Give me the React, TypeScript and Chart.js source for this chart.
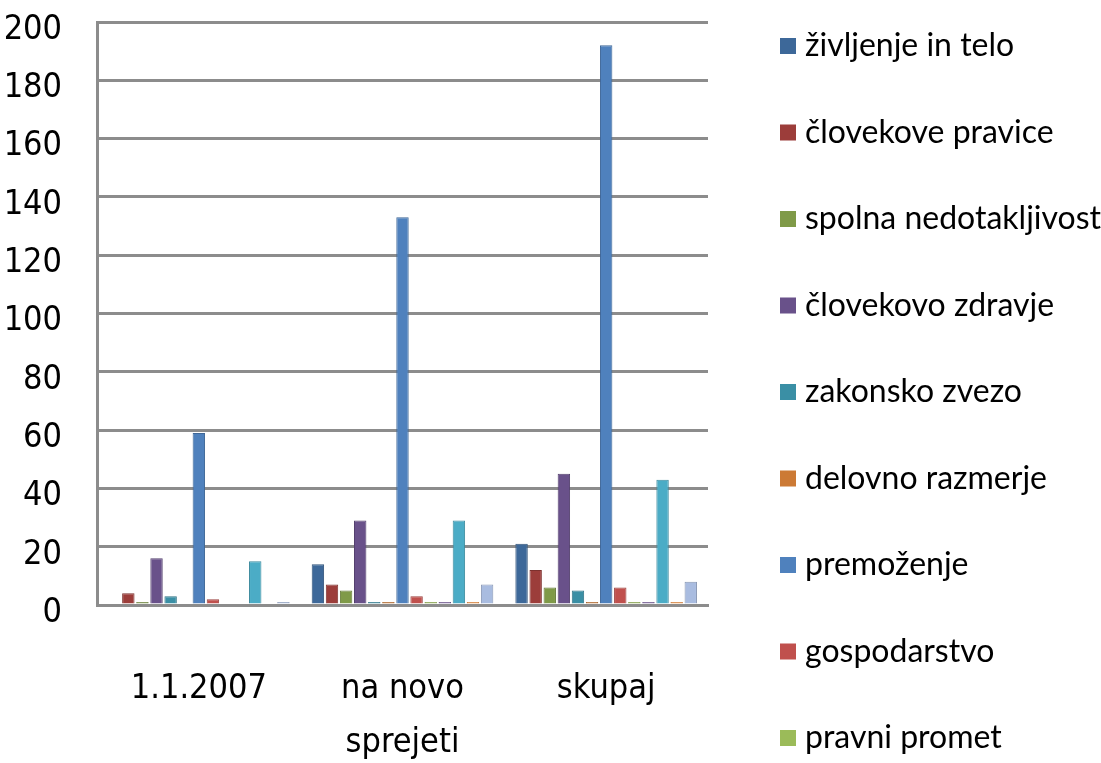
import React, { useEffect, useRef } from "react";
import { Chart, registerables } from "chart.js";

Chart.register(...registerables);

// ---- data ----
const categories: string[][] = [["1.1.2007"], ["na novo", "sprejeti"], ["skupaj"]];

const seriesNames: string[] = [
  "življenje in telo",
  "človekove pravice",
  "spolna nedotakljivost",
  "človekovo zdravje",
  "zakonsko zvezo",
  "delovno razmerje",
  "premoženje",
  "gospodarstvo",
  "pravni promet",
  "Niz 10",
  "Niz 11",
  "Niz 12",
  "Niz 13",
];

const seriesColors: string[] = [
  "#3D6899",
  "#9C3D3A",
  "#7F9A48",
  "#69518A",
  "#3A8FA5",
  "#CC7A35",
  "#4F81BD",
  "#C0504D",
  "#9BBB59",
  "#8064A2",
  "#4BACC6",
  "#F79646",
  "#A9BCE0",
];

const zivljenjeInTelo = [0, 14, 21];
const clovekovePravice = [4, 7, 12];
const spolnaNedotakljivost = [1, 5, 6];
const clovekovoZdravje = [16, 29, 45];
const zakonskoZvezo = [3, 1, 5];
const delovnoRazmerje = [0, 1, 1];
const premozenje = [59, 133, 192];
const gospodarstvo = [2, 3, 6];
const pravniPromet = [0, 1, 1];
const niz10 = [0, 1, 1];
const niz11 = [15, 29, 43];
const niz12 = [0, 1, 1];
const niz13 = [1, 7, 8];

const seriesValues: number[][] = [
  zivljenjeInTelo,
  clovekovePravice,
  spolnaNedotakljivost,
  clovekovoZdravje,
  zakonskoZvezo,
  delovnoRazmerje,
  premozenje,
  gospodarstvo,
  pravniPromet,
  niz10,
  niz11,
  niz12,
  niz13,
];

const yMin = 0;
const yMax = 200;
const yStep = 20;
const legendCount = 9;

const axisFontFamily = "'DejaVu Sans Condensed', 'Liberation Sans', sans-serif";

function darken(hex: string, f: number): string {
  const n = parseInt(hex.slice(1), 16);
  const r = Math.round(((n >> 16) & 255) * f);
  const g = Math.round(((n >> 8) & 255) * f);
  const b = Math.round((n & 255) * f);
  return `rgb(${r},${g},${b})`;
}

const sideLegend = {
  id: "sideLegend",
  afterDraw(chart: any) {
    const ctx = chart.ctx as CanvasRenderingContext2D;
    ctx.save();
    ctx.font = "32px Lato";
    ctx.textBaseline = "middle";
    ctx.textAlign = "left";
    chart.data.datasets.slice(0, legendCount).forEach((ds: any, i: number) => {
      const y = 46 + i * 86.5;
      ctx.fillStyle = ds.backgroundColor;
      ctx.fillRect(780, y - 8, 16, 16);
      ctx.fillStyle = "#000";
      ctx.fillText(ds.label, 805, y);
    });
    ctx.restore();
  },
};

export default function App() {
  const canvasRef = useRef<HTMLCanvasElement | null>(null);

  useEffect(() => {
    document.body.style.margin = "0";
    const canvas = canvasRef.current;
    if (!canvas) return;
    const chart = new Chart(canvas, {
      type: "bar",
      data: {
        labels: categories as any,
        datasets: seriesValues.map((vals, i) => ({
          label: seriesNames[i],
          data: vals,
          backgroundColor: seriesColors[i],
          borderColor: darken(seriesColors[i], 0.8),
          borderWidth: 1,
          categoryPercentage: 0.9,
          barPercentage: 0.88,
        })),
      },
      options: {
        animation: false,
        responsive: false,
        maintainAspectRatio: false,
        layout: { padding: { top: 22, right: 393, left: 0, bottom: 0 } },
        plugins: {
          legend: { display: false },
          tooltip: { enabled: false },
        },
        scales: {
          x: {
            grid: { display: false, drawTicks: false },
            border: { display: true, color: "#8C8C8C", width: 3 },
            ticks: {
              color: "#000",
              padding: 57,
              font: { family: axisFontFamily, size: 34, lineHeight: 1.6 },
              maxRotation: 0,
              autoSkip: false,
            },
            afterFit: (s: any) => {
              s.height = 763 - 605;
              s.paddingLeft = 0;
              s.paddingRight = 0;
            },
          },
          y: {
            min: yMin,
            max: yMax,
            grid: { color: "#8C8C8C", lineWidth: 3, drawTicks: false },
            border: { display: true, color: "#8C8C8C", width: 3 },
            ticks: {
              stepSize: yStep,
              color: "#000",
              padding: 35,
              labelOffset: 8,
              font: { family: axisFontFamily, size: 34 },
            },
            afterFit: (s: any) => {
              s.width = 97;
              s.paddingTop = 0;
              s.paddingBottom = 0;
            },
          },
        },
      },
      plugins: [sideLegend],
    });
    return () => chart.destroy();
  }, []);

  return (
    <div style={{ width: 1101, height: 763, background: "#fff" }}>
      <canvas ref={canvasRef} width={1101} height={763} style={{ display: "block" }} />
    </div>
  );
}
